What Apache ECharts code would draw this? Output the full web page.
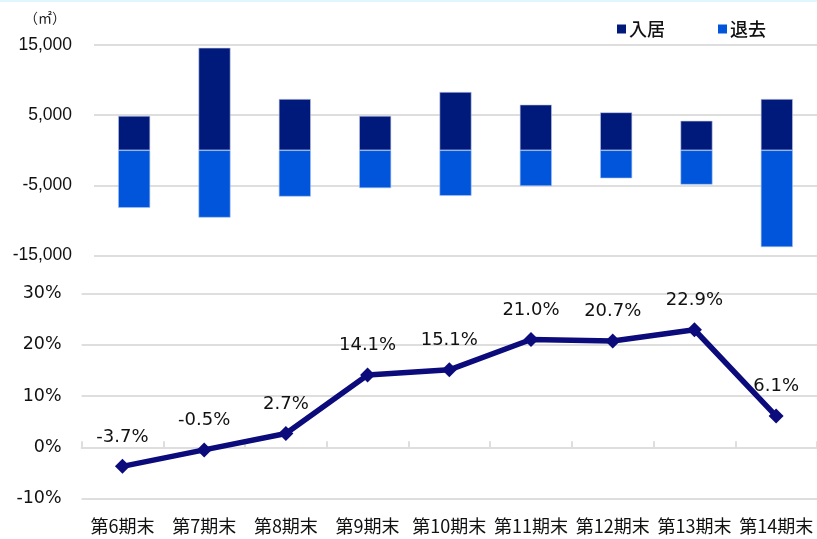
<!DOCTYPE html>
<html>
<head>
<meta charset="utf-8">
<script src="https://cdn.jsdelivr.net/npm/echarts@6/dist/echarts.min.js"></script>
<style>
html,body{margin:0;padding:0;background:#fff;}
#c{width:817px;height:539px;}
</style>
</head>
<body>
<div id="c"></div>
<script>
const categories = ['第6期末','第7期末','第8期末','第9期末','第10期末','第11期末','第12期末','第13期末','第14期末'];
const moveIn = [4900, 14600, 7300, 4900, 8300, 6500, 5400, 4200, 7300];
const moveOut = [-8200, -9600, -6600, -5400, -6500, -5100, -4000, -4900, -13800];
const rate = [-3.7, -0.5, 2.7, 14.1, 15.1, 21.0, 20.7, 22.9, 6.1];
const seriesNames = ['入居', '退去'];
const unitLabel = '（㎡）';

const chart = echarts.init(document.getElementById('c'));
const gridColor = '#dedede';
const jp = '"Noto Sans CJK JP", "Noto Sans", sans-serif';
const inColor = '#001A7B', outColor = '#0055DB';

chart.setOption({
  animation: false,
  backgroundColor: '#fff',
  graphic: [
    { type: 'rect', left: 0, top: 0, shape: { width: 817, height: 2 }, style: { fill: '#e2f7fd' } },
    { type: 'text', left: 24, top: 11, style: { text: unitLabel, font: '14px ' + jp, fill: '#222' } }
  ],
  legend: {
    data: [
      { name: seriesNames[0], itemStyle: { color: inColor, borderWidth: 0 } },
      { name: seriesNames[1], itemStyle: { color: outColor, borderWidth: 0 } }
    ],
    left: 612,
    top: 15,
    icon: 'rect',
    itemWidth: 9,
    itemHeight: 9,
    itemGap: 53,
    textStyle: { fontFamily: '"Noto Sans CJK JP"', fontSize: 18, fontWeight: 500, color: '#111', padding: [0, 0, 0, -2] }
  },
  grid: [
    { left: 94, top: 45, width: 732, height: 210.5 },
    { left: 81.6, top: 293.3, width: 736, height: 205.4 }
  ],
  xAxis: [
    { type: 'category', gridIndex: 0, data: categories, show: false },
    { type: 'category', gridIndex: 1, data: categories, position: 'bottom',
      axisLine: { show: false, onZero: false }, axisTick: { show: false },
      axisLabel: { interval: 0, margin: 18, fontFamily: jp, fontSize: 18, color: '#111' } },
    { type: 'category', gridIndex: 1, data: categories, position: 'bottom',
      axisLine: { show: true, onZero: true, lineStyle: { color: gridColor, width: 2 } },
      axisTick: { show: true, inside: true, interval: 0, length: 6, lineStyle: { color: gridColor, width: 2 } },
      axisLabel: { show: false } }
  ],
  yAxis: [
    { type: 'value', gridIndex: 0, min: -15000, max: 15000, interval: 10000,
      axisLine: { show: false }, axisTick: { show: false },
      splitLine: { lineStyle: { color: gridColor, width: 2 } },
      axisLabel: { margin: 22, fontFamily: '"Liberation Sans", Arial, sans-serif', fontSize: 17.5, color: '#111',
        formatter: v => v.toLocaleString('en-US') } },
    { type: 'value', gridIndex: 1, min: -10, max: 30, interval: 10,
      axisLine: { show: false }, axisTick: { show: false },
      splitLine: { lineStyle: { color: gridColor, width: 2 } },
      axisLabel: { margin: 20, fontFamily: '"DejaVu Sans", Verdana, sans-serif', fontSize: 17.5, color: '#111',
        formatter: v => v + '%' } }
  ],
  series: [
    { name: seriesNames[0], type: 'bar', stack: 'a', xAxisIndex: 0, yAxisIndex: 0, data: moveIn,
      barWidth: 32, itemStyle: { color: inColor, borderColor: '#c6cbe6', borderWidth: 0.6 } },
    { name: seriesNames[1], type: 'bar', stack: 'a', xAxisIndex: 0, yAxisIndex: 0, data: moveOut,
      barWidth: 32, itemStyle: { color: outColor, borderColor: '#a9c4f2', borderWidth: 0.6 } },
    { name: '稼働率', type: 'line', xAxisIndex: 1, yAxisIndex: 1, data: rate,
      lineStyle: { color: '#0B0B7C', width: 5.5 },
      itemStyle: { color: '#0B0B7C' },
      symbol: 'diamond', symbolSize: 15,
      label: { show: true, position: 'top', distance: 13,
        fontFamily: '"DejaVu Sans", Verdana, sans-serif', fontSize: 18, color: '#111',
        formatter: p => p.value.toFixed(1) + '%' } }
  ]
});
</script>
</body>
</html>
